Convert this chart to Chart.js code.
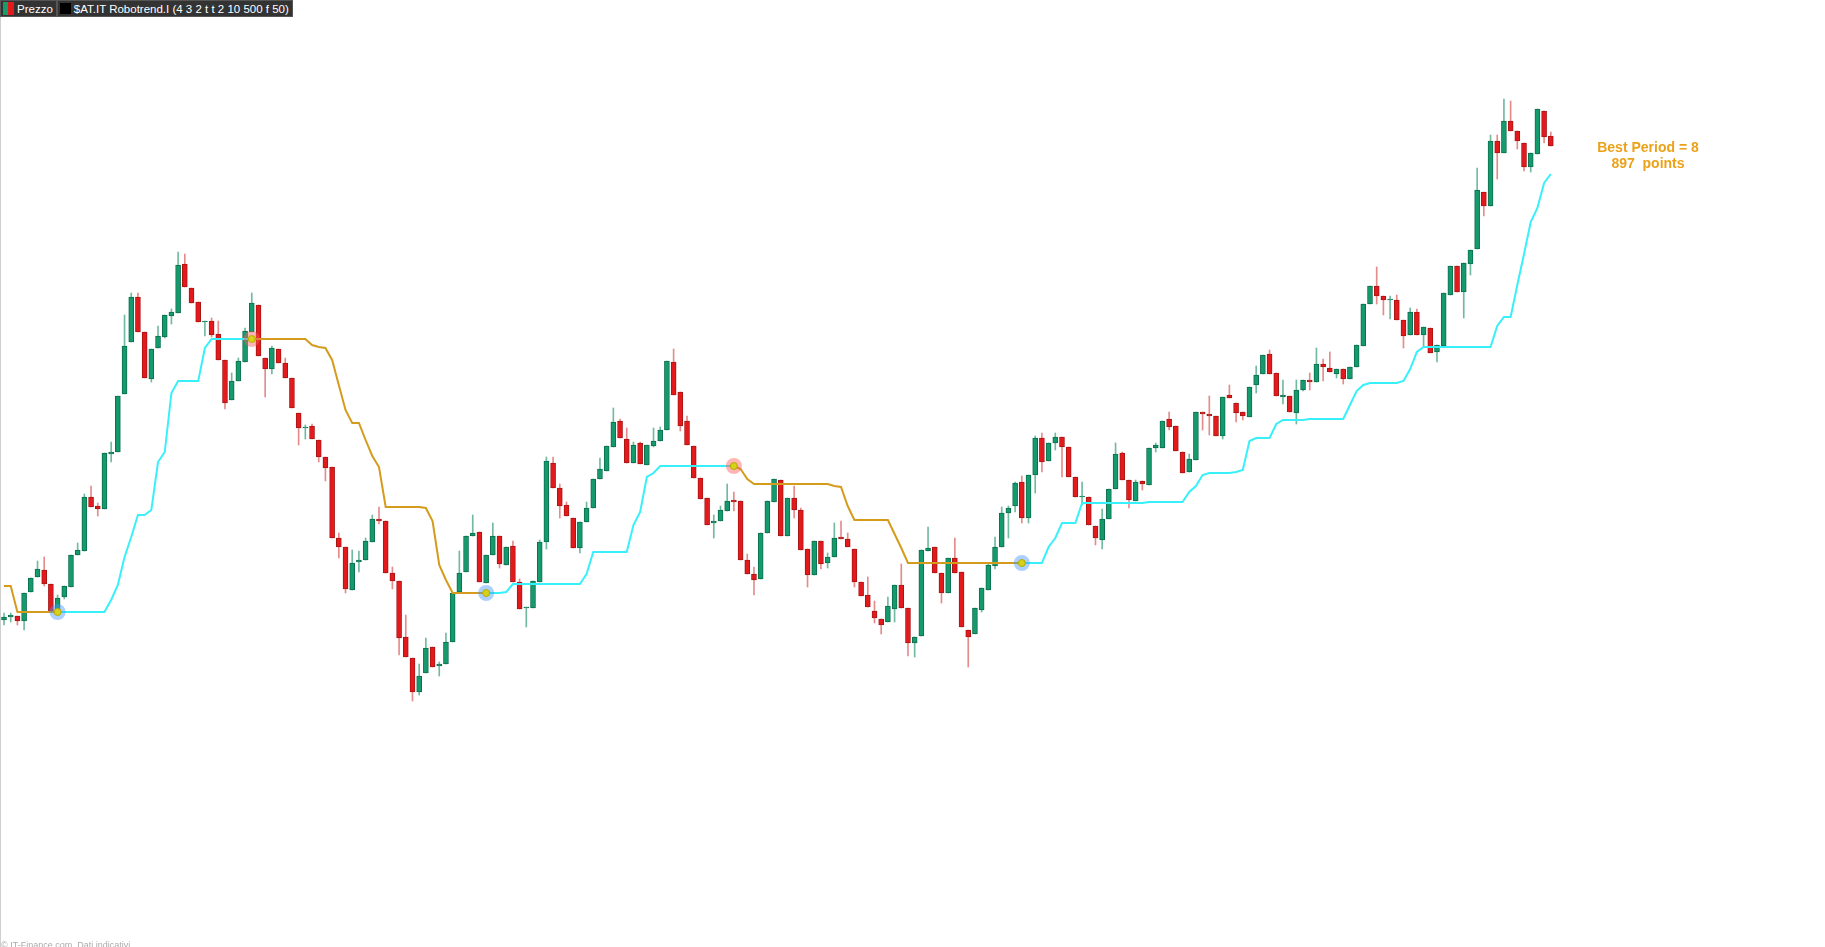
<!DOCTYPE html>
<html>
<head>
<meta charset="utf-8">
<title>$AT.IT Robotrend</title>
<script src="https://cdn.jsdelivr.net/npm/chart.js@4.4.1/dist/chart.umd.min.js"></script>
<style>
  body { margin: 0; background: #fff; overflow: hidden; }
  #wrap { position: relative; width: 1825px; height: 947px; }
  #robotChart { position: absolute; left: 0; top: 0; }
  .edge { position: absolute; left: 0; top: 17px; width: 1px; height: 930px; background: #cfcfcf; }
  .bar { position: absolute; left: 0; top: 0; height: 17px; display: flex; font: 11.5px "Liberation Sans", Arial, sans-serif; color: #fff; }
  .box { background: #333; border: 1px solid #555; box-sizing: border-box; height: 17px; display: flex; align-items: center; padding: 0 3px 0 2px; }
  .ico { width: 11px; height: 13px; margin-right: 3px; }
  .ico.price { background: linear-gradient(90deg, #1a9b6c 50%, #e3191c 50%); }
  .ico.black { background: #000; width: 11px; height: 11px; }
  .best { position: absolute; left: 1548px; top: 139px; width: 200px; text-align: center; font: bold 14px "Liberation Sans", Arial, sans-serif; line-height: 16px; color: #eba21a; }
  .foot { position: absolute; left: 1px; top: 940px; font: 9px "Liberation Sans", Arial, sans-serif; color: #aaa; }
</style>
</head>
<body>
<div id="wrap">
  <canvas id="robotChart" width="1825" height="947"></canvas>
  <div class="edge"></div>
  <div class="bar">
    <div class="box"><span class="ico price"></span>Prezzo</div>
    <div class="box"><span class="ico black"></span>$AT.IT Robotrend.I (4 3 2 t t 2 10 500 f 50)</div>
  </div>
  <div class="best">Best Period = 8<br>897&nbsp; points</div>
  <div class="foot">© IT-Finance.com&nbsp; Dati indicativi</div>
</div>
<script>
var opens = [
    380,383,384,379,408,423,430,416,388,403,
    413,445,449,503,494,491,546,548,606,658,
    703,668,621,652,663,684,687,736,712,698,
    678,679,666,640,600,619,638,668,695,642,
    631,651,637,622,587,572,574,560,543,533,
    462,453,410,438,440,458,481,479,427,419,
    363,342,308,327,353,334,336,358,408,428,
    464,468,417,445,464,435,454,418,392,392,
    418,458,537,512,495,482,452,478,492,521,
    529,553,579,561,537,557,535,554,559,570,
    638,608,579,554,522,502,477,479,489,500,
    499,440,426,421,467,498,520,464,502,490,
    451,425,459,437,443,463,461,451,418,405,
    389,381,378,391,415,392,357,364,449,453,
    427,407,442,428,370,366,390,410,434,453,
    487,494,518,482,525,562,539,557,563,553,
    523,503,503,474,460,481,511,547,520,499,
    519,515,552,552,581,574,548,528,540,588,
    586,584,564,605,597,588,583,615,626,646,
    627,603,604,587,610,620,618,636,632,626,
    631,621,633,654,696,714,704,700,700,680,
    665,688,665,672,648,654,705,734,708,736,
    751,808,794,859,847,879,869,857,833,846,
    889,864
];
var highs = [
    387,387,384,407,422,439,443,416,405,414,
    445,457,506,514,497,547,558,604,685,707,
    707,668,651,674,685,691,748,746,712,698,
    679,682,679,640,627,642,672,707,695,642,
    654,651,642,622,587,575,576,560,543,533,
    467,453,450,449,462,485,493,479,433,419,
    385,342,336,362,353,338,367,407,449,464,
    485,468,445,477,464,453,459,421,393,419,
    460,543,543,516,498,482,478,498,521,542,
    554,592,581,572,558,558,555,572,573,639,
    651,608,584,554,522,502,485,494,516,508,
    499,446,433,467,499,521,520,502,514,492,
    451,459,459,447,477,479,467,451,418,423,
    399,381,403,415,436,392,363,450,473,453,
    427,442,462,428,370,392,412,437,463,493,
    494,518,524,525,564,567,557,567,563,553,
    523,518,503,474,491,511,557,548,520,520,
    519,552,557,579,588,574,548,546,588,588,
    604,584,603,615,597,588,613,634,645,650,
    627,620,604,620,620,627,652,641,648,631,
    631,633,655,696,714,733,704,704,705,680,
    692,691,673,672,655,707,734,734,737,750,
    832,808,865,865,901,899,869,857,847,891,
    889,868
];
var lows = [
    375,378,375,370,408,423,414,388,388,401,
    413,445,449,493,484,491,538,548,606,658,
    668,622,618,652,662,676,687,713,697,678,
    664,663,640,591,600,619,638,668,644,603,
    626,637,622,592,555,561,561,538,519,462,
    442,407,410,428,440,458,476,427,411,345,
    343,299,305,327,333,324,336,358,408,428,
    464,418,417,445,432,435,418,391,373,392,
    418,451,512,482,484,452,447,478,492,521,
    529,553,562,537,537,536,535,553,559,570,
    605,569,555,522,501,475,462,479,489,489,
    440,426,405,421,467,498,464,464,482,450,
    413,425,431,432,443,461,453,413,404,393,
    377,366,378,378,392,344,343,364,449,427,
    397,407,427,373,333,366,388,410,431,453,
    462,488,477,477,507,528,539,550,523,523,
    503,495,475,455,451,481,511,520,492,499,
    510,515,548,552,570,549,527,528,540,570,
    565,564,561,602,578,580,583,607,626,626,
    604,596,588,576,609,610,618,619,628,622,
    616,621,633,654,696,696,685,681,680,652,
    665,665,654,647,638,654,705,708,682,725,
    751,784,794,821,847,869,851,829,828,846,
    857,854
];
var closes = [
    383,385,379,407,422,431,416,388,402,414,
    445,450,503,493,491,547,548,604,654,703,
    668,622,651,664,685,688,735,713,697,678,
    679,665,640,597,619,639,669,697,644,631,
    652,637,622,592,572,573,561,543,532,462,
    453,411,437,440,459,481,479,427,419,362,
    343,308,324,352,333,336,358,407,427,464,
    467,418,445,464,436,453,418,391,393,419,
    458,539,512,494,484,452,478,492,521,531,
    554,578,562,537,555,536,555,559,570,639,
    605,574,555,522,501,475,479,490,499,498,
    440,426,420,467,499,521,464,502,490,450,
    425,459,436,443,462,461,453,418,404,393,
    382,375,394,415,392,357,363,450,452,427,
    407,442,427,373,363,392,412,435,453,487,
    492,517,482,525,562,538,557,563,553,523,
    503,504,475,462,481,511,546,520,500,518,
    516,552,555,579,573,549,527,541,588,586,
    584,564,603,602,587,584,613,625,645,626,
    604,605,588,610,620,618,636,633,628,631,
    621,633,655,696,714,704,700,701,680,664,
    688,665,673,647,655,707,734,708,737,750,
    810,794,859,847,879,869,859,833,847,891,
    863,854
];
// trailing stop of Robotrend, one value per bar
var trailStop = [
    414,414,388,388,388,388,388,388,388,388,
    388,388,388,388,388,388,400,415,443,463,
    485,485,490,538,548,607,619,619,619,619,
    652,661,661,661,661,661,661,661,661,661,
    661,661,661,661,661,661,655,653,652,640,
    615,590,577,577,560,544,533,493,493,493,
    493,493,493,492,479,435,420,407,407,407,
    407,407,407,407,407,408,416,416,416,416,
    416,416,416,416,416,416,416,426,448,448,
    448,448,448,448,475,488,523,527,534,534,
    534,534,534,534,534,534,534,534,534,534,
    531,521,516,516,516,516,516,516,516,516,
    516,516,516,516,514,513,494,480,480,480,
    480,480,480,466,452,437,437,437,437,437,
    437,437,437,437,437,437,437,437,437,437,
    437,437,437,437,437,437,453,462,477,477,
    477,497,497,497,497,497,497,497,497,497,
    497,498,498,498,498,498,498,508,514,525,
    527,527,527,527,528,530,559,562,562,562,
    576,580,580,580,580,581,581,581,581,581,
    581,595,609,615,617,617,617,617,617,619,
    631,648,653,653,653,653,653,653,653,653,
    653,653,653,674,683,683,715,746,778,792,
    817,826
];
// bars where the stop flips (first segment is short)
var switchBars = [8, 37, 72, 109, 152];

window.addEventListener('load', drawChart);

function drawChart() {
    var ctx = document.getElementById('robotChart');

    var bodies = [], wicks = [], bodyColor = [], bodyBorder = [], wickColor = [];
    for (var i = 0; i < opens.length; ++i) {
        var up = closes[i] >= opens[i];
        bodies.push({x: i, y: [opens[i], closes[i]]});
        wicks.push({x: i, y: [lows[i], highs[i]]});
        bodyColor.push(up ? '#149a6c' : '#e3191c');
        bodyBorder.push(up ? '#0c6f4d' : '#a91515');
        wickColor.push(up ? 'rgba(20,140,95,0.6)' : 'rgba(205,45,45,0.55)');
    }

    // split the stop into the long (cyan) and short (orange) lines
    var longLine = [], shortLine = [], dots = [], dotGlow = [];
    var isLong = false;
    for (var j = 0; j < trailStop.length; ++j) {
        var flip = switchBars.indexOf(j) >= 0;
        if (flip) {
            longLine.push({x: j, y: trailStop[j]});
            shortLine.push({x: j, y: trailStop[j]});
            isLong = !isLong;
            dots.push({x: j, y: trailStop[j]});
            dotGlow.push(isLong ? 'rgba(70,150,255,0.45)' : 'rgba(255,90,90,0.45)');
        } else {
            longLine.push({x: j, y: isLong ? trailStop[j] : null});
            shortLine.push({x: j, y: isLong ? null : trailStop[j]});
        }
    }

    new Chart(ctx, {
        type: 'bar',
        data: {
            datasets: [{
                data: wicks,
                backgroundColor: wickColor,
                barThickness: 1,
                grouped: false,
                order: 5
            }, {
                data: bodies,
                backgroundColor: bodyColor,
                borderColor: bodyBorder,
                borderWidth: 1,
                borderSkipped: false,
                barThickness: 5,
                grouped: false,
                order: 4
            }, {
                type: 'line',
                data: longLine,
                borderColor: '#38f0fa',
                borderWidth: 2,
                pointRadius: 0,
                tension: 0,
                spanGaps: false,
                order: 3
            }, {
                type: 'line',
                data: shortLine,
                borderColor: '#d49b1c',
                borderWidth: 2,
                pointRadius: 0,
                tension: 0,
                spanGaps: false,
                order: 3
            }, {
                type: 'scatter',
                data: dots,
                pointRadius: 8,
                pointBackgroundColor: dotGlow,
                pointBorderWidth: 0,
                order: 2
            }, {
                type: 'scatter',
                data: dots,
                pointRadius: 3.5,
                pointBackgroundColor: '#d6d21a',
                pointBorderColor: '#b8a800',
                pointBorderWidth: 1,
                order: 1
            }]
        },
        options: {
            responsive: false,
            animation: false,
            devicePixelRatio: 1,
            layout: { padding: 0, autoPadding: false },
            plugins: { legend: { display: false }, tooltip: { enabled: false } },
            scales: {
                x: { type: 'linear', min: -0.6, max: 271.95, offset: false, display: false },
                y: { min: 53, max: 1000, display: false }
            }
        }
    });
}
</script>
</body>
</html>
